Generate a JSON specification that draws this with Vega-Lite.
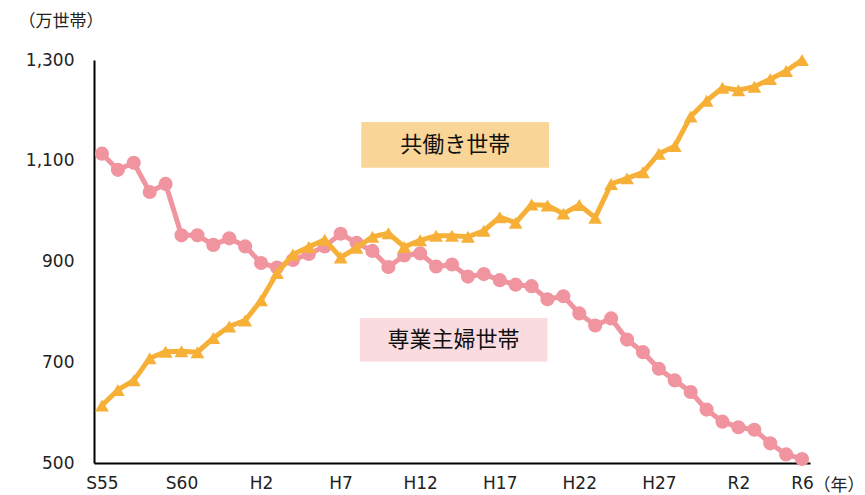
{
  "$schema": "https://vega.github.io/schema/vega-lite/v6.json",
  "width": 716,
  "height": 403,
  "autosize": {"type": "none"},
  "padding": {"left": 94, "top": 60, "right": 55, "bottom": 32},
  "background": "white",
  "config": {
    "view": {"stroke": null},
    "font": "Noto Sans CJK JP",
    "axis": {"labelFont": "DejaVu Sans", "titleFont": "Noto Sans CJK JP", "labelColor": "#222", "titleColor": "#222"}
  },
  "datasets": {
    "series": [
      {"year":1980,"dual":614,"house":1114},
      {"year":1981,"dual":645,"house":1082},
      {"year":1982,"dual":664,"house":1096},
      {"year":1983,"dual":708,"house":1038},
      {"year":1984,"dual":721,"house":1054},
      {"year":1985,"dual":722,"house":952},
      {"year":1986,"dual":720,"house":952},
      {"year":1987,"dual":748,"house":933},
      {"year":1988,"dual":771,"house":946},
      {"year":1989,"dual":783,"house":930},
      {"year":1990,"dual":823,"house":897},
      {"year":1991,"dual":877,"house":888},
      {"year":1992,"dual":914,"house":903},
      {"year":1993,"dual":929,"house":915},
      {"year":1994,"dual":943,"house":930},
      {"year":1995,"dual":908,"house":955},
      {"year":1996,"dual":927,"house":937},
      {"year":1997,"dual":949,"house":921},
      {"year":1998,"dual":956,"house":889},
      {"year":1999,"dual":929,"house":912},
      {"year":2000,"dual":942,"house":916},
      {"year":2001,"dual":951,"house":890},
      {"year":2002,"dual":951,"house":894},
      {"year":2003,"dual":949,"house":870},
      {"year":2004,"dual":961,"house":875},
      {"year":2005,"dual":988,"house":863},
      {"year":2006,"dual":977,"house":854},
      {"year":2007,"dual":1013,"house":851},
      {"year":2008,"dual":1011,"house":825},
      {"year":2009,"dual":995,"house":831},
      {"year":2010,"dual":1012,"house":797},
      {"year":2011,"dual":987,"house":773},
      {"year":2012,"dual":1054,"house":787},
      {"year":2013,"dual":1065,"house":745},
      {"year":2014,"dual":1077,"house":720},
      {"year":2015,"dual":1114,"house":687},
      {"year":2016,"dual":1129,"house":664},
      {"year":2017,"dual":1188,"house":641},
      {"year":2018,"dual":1219,"house":606},
      {"year":2019,"dual":1245,"house":582},
      {"year":2020,"dual":1240,"house":571},
      {"year":2021,"dual":1247,"house":566},
      {"year":2022,"dual":1262,"house":539},
      {"year":2023,"dual":1278,"house":517},
      {"year":2024,"dual":1300,"house":508}
    ],
    "labels": [
      {"label":"共働き世帯","x1":1996.3,"x2":2008.1,"y1":1086,"y2":1177,"xc":2002.2,"yc":1131,"fill":"#F9D597"},
      {"label":"専業主婦世帯","x1":1996.2,"x2":2008.0,"y1":701,"y2":788,"xc":2002.1,"yc":744,"fill":"#FADCE0"}
    ]
  },
  "layer": [
    {
      "data": {"name": "labels"},
      "mark": {"type": "rect"},
      "encoding": {
        "x": {"field": "x1", "type": "quantitative", "scale": {"domain": [1979.5, 2024.5], "nice": false, "zero": false},
          "axis": {"values": [1980,1985,1990,1995,2000,2005,2010,2015,2020,2024],
            "labelExpr": "{'1980':'S55','1985':'S60','1990':'H2','1995':'H7','2000':'H12','2005':'H17','2010':'H22','2015':'H27','2020':'R2','2024':'R6'}[datum.value+'']",
            "ticks": false, "grid": false, "domainColor": "#000", "domainWidth": 2,
            "labelFontSize": 17, "labelPadding": 12,
            "title": "（年）", "titleFontSize": 17, "titleFontWeight": "normal", "titleAngle": 0,
            "titleAlign": "left", "titleBaseline": "middle", "titleX": 719, "titleY": 22}},
        "x2": {"field": "x2"},
        "y": {"field": "y1", "type": "quantitative", "scale": {"domain": [500, 1300], "nice": false, "zero": false},
          "axis": {"values": [500,700,900,1100,1300], "format": ",d", "ticks": false, "grid": false,
            "domainColor": "#000", "domainWidth": 2, "labelFontSize": 17, "labelPadding": 20,
            "title": "（万世帯）", "titleFontSize": 17, "titleFontWeight": "normal", "titleAngle": 0,
            "titleAlign": "left", "titleBaseline": "middle", "titleX": -76, "titleY": -39}},
        "y2": {"field": "y2"},
        "color": {"field": "fill", "type": "nominal", "scale": null}
      }
    },
    {
      "data": {"name": "labels"},
      "mark": {"type": "text", "fontSize": 22, "color": "#111", "font": "Noto Sans CJK JP"},
      "encoding": {
        "x": {"field": "xc", "type": "quantitative"},
        "y": {"field": "yc", "type": "quantitative"},
        "text": {"field": "label"}
      }
    },
    {
      "data": {"name": "series"},
      "mark": {"type": "line", "color": "#F0959F", "strokeWidth": 5},
      "encoding": {"x": {"field": "year", "type": "quantitative"}, "y": {"field": "house", "type": "quantitative"}}
    },
    {
      "data": {"name": "series"},
      "mark": {"type": "point", "shape": "circle", "filled": true, "opacity": 1, "color": "#F0959F", "size": 200},
      "encoding": {"x": {"field": "year", "type": "quantitative"}, "y": {"field": "house", "type": "quantitative"}}
    },
    {
      "data": {"name": "series"},
      "mark": {"type": "line", "color": "#F7B037", "strokeWidth": 5},
      "encoding": {"x": {"field": "year", "type": "quantitative"}, "y": {"field": "dual", "type": "quantitative"}}
    },
    {
      "data": {"name": "series"},
      "mark": {"type": "point", "shape": "triangle-up", "filled": true, "opacity": 1, "color": "#F7B037", "size": 190},
      "encoding": {"x": {"field": "year", "type": "quantitative"}, "y": {"field": "dual", "type": "quantitative"}}
    }
  ]
}
